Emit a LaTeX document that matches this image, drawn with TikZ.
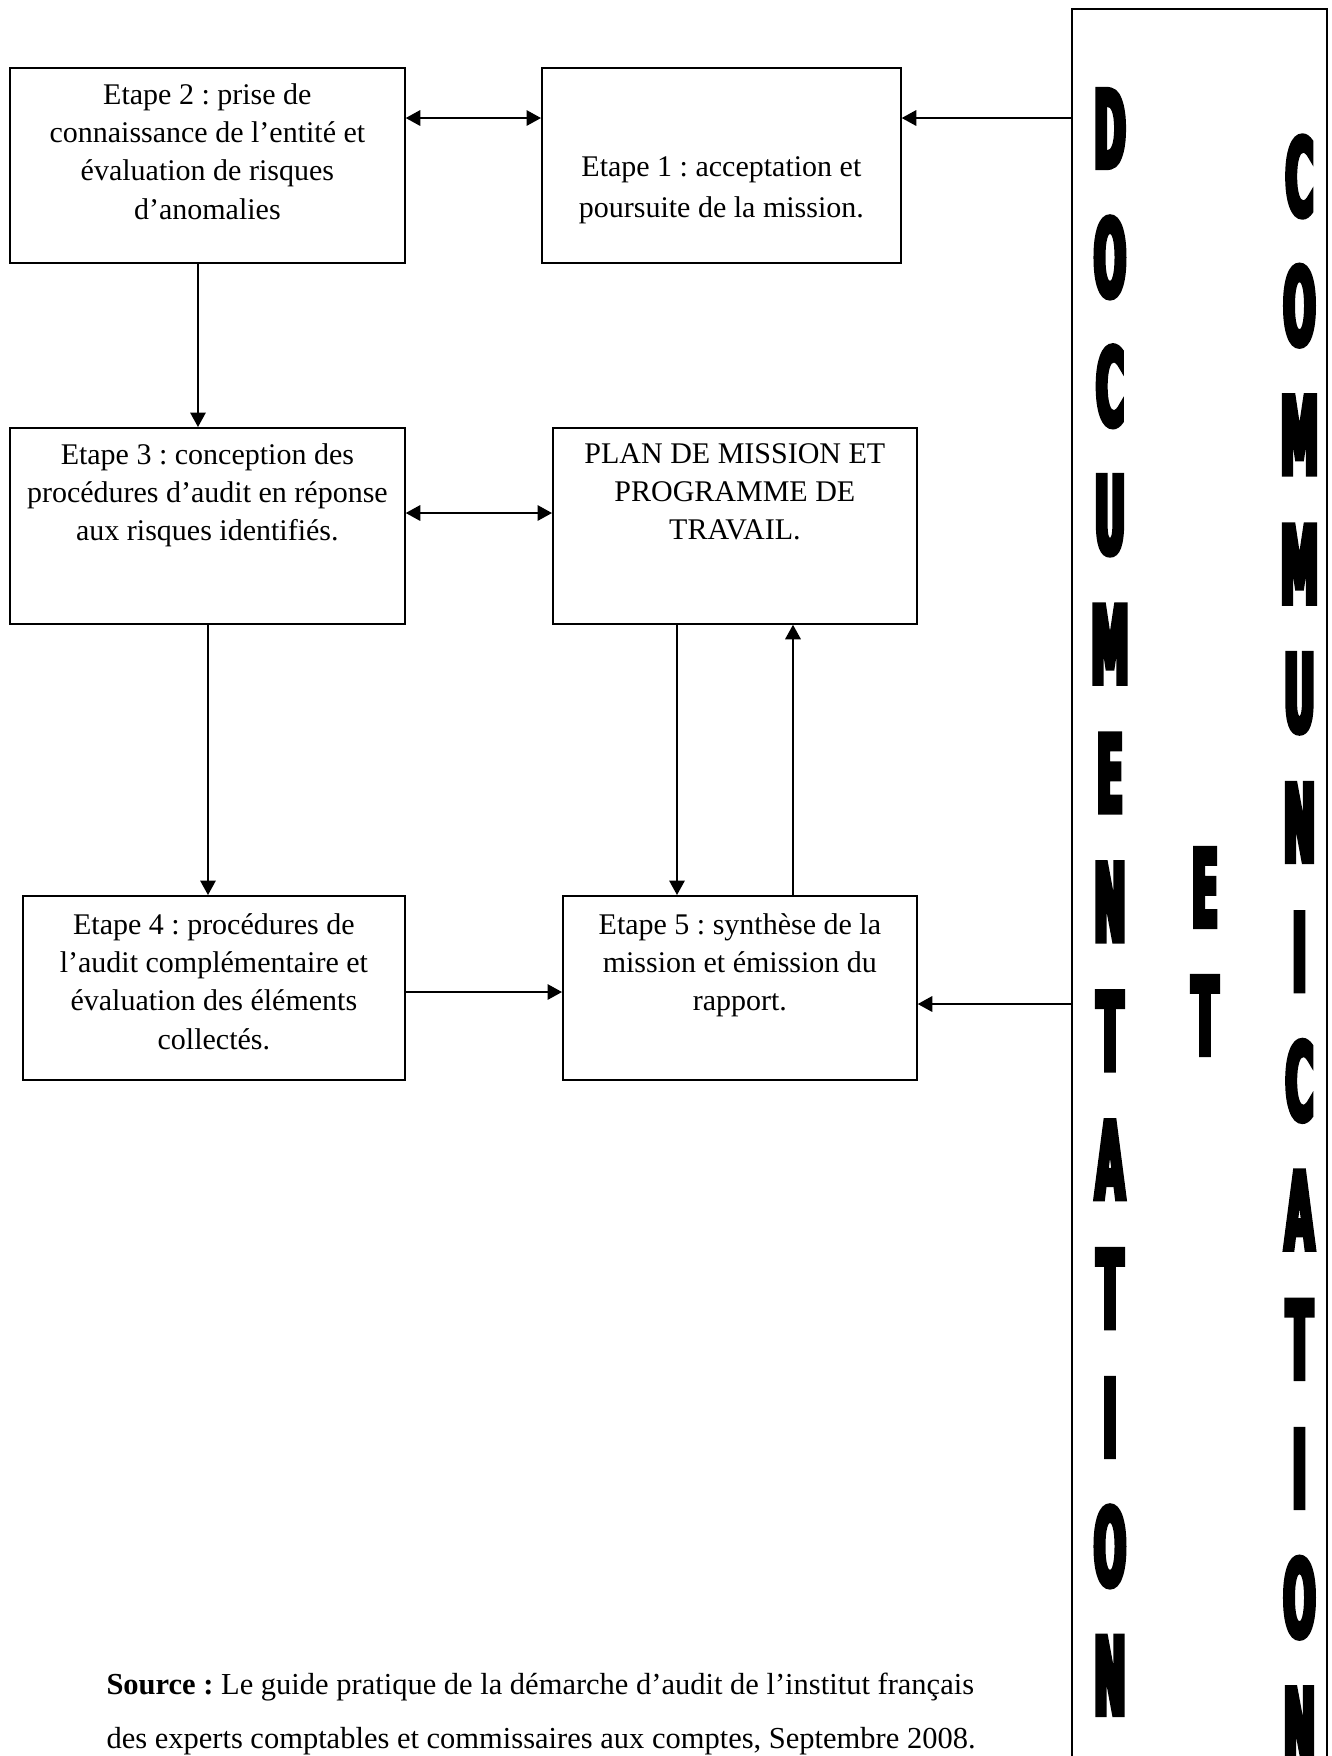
\documentclass[tikz,border=0pt]{standalone}
\usepackage{fontspec}
\setmainfont{Liberation Serif}
% heavy condensed capitals for the side panel
\newfontfamily\heavyfont{DejaVu Sans Bold}[FakeStretch=0.35,FakeBold=4.3]
\usetikzlibrary{arrows.meta,calc}
\frenchspacing
\begin{document}
\begin{tikzpicture}[x=0.4pt,y=-0.4pt,
  box/.style={draw, line width=0.7pt, rectangle, inner sep=0pt, anchor=north west},
  txt/.style={anchor=north, align=center, inner sep=0pt,
    font=\fontsize{12}{15.3}\selectfont, execute at begin node={\rule{0pt}{10pt}}},
  arr/.style={line width=0.7pt, -{Triangle[length=5.8pt,width=6.2pt]}},
  darr/.style={line width=0.7pt, {Triangle[length=5.8pt,width=6.2pt]}-{Triangle[length=5.8pt,width=6.2pt]}},
  bigletter/.style={inner sep=0pt, font=\heavyfont\fontsize{43.2}{50}\selectfont}]
\useasboundingbox (0,0) rectangle (1332,1756);
\clip (0,0) rectangle (1332,1756);

% process boxes
\node[box, minimum width=395*0.4pt, minimum height=195*0.4pt] (e2) at (9,67) {};
\node[box, minimum width=359*0.4pt, minimum height=195*0.4pt] (e1) at (541,67) {};
\node[box, minimum width=395*0.4pt, minimum height=196*0.4pt] (e3) at (9,427) {};
\node[box, minimum width=364*0.4pt, minimum height=196*0.4pt] (plan) at (552,427) {};
\node[box, minimum width=382*0.4pt, minimum height=184*0.4pt] (e4) at (22,895) {};
\node[box, minimum width=354*0.4pt, minimum height=184*0.4pt] (e5) at (562,895) {};

% side panel (runs off the bottom of the page)
\node[box, minimum width=255*0.4pt, minimum height=1800*0.4pt] (panel) at (1071,8) {};

% box texts
\node[txt] (e2t) at ($(e2.north)+(0,16)$) {Etape 2 : prise de\\connaissance de l’entité et\\évaluation de risques\\d’anomalies};
\node[txt, font=\fontsize{12}{16.4}\selectfont] (e1t) at ($(e1.north)+(0,89)$) {Etape 1 : acceptation et\\poursuite de la mission.};
\node[txt] (e3t) at ($(e3.north)+(0,16)$) {Etape 3 : conception des\\procédures d’audit en réponse\\aux risques identifiés.};
\node[txt] (plant) at ($(plan.north)+(0,16)$) {PLAN DE MISSION ET\\PROGRAMME DE\\TRAVAIL.};
\node[txt] (e4t) at ($(e4.north)+(0,18)$) {Etape 4 : procédures de\\l’audit complémentaire et\\évaluation des éléments\\collectés.};
\node[txt] (e5t) at ($(e5.north)+(0,18)$) {Etape 5 : synthèse de la\\mission et émission du\\rapport.};

% connectors
\coordinate (r1) at (0,118);
\coordinate (r2) at (0,513);
\coordinate (r3) at (0,992);
\coordinate (r4) at (0,1004);
\coordinate (c1) at (198,0);
\coordinate (c2) at (208,0);
\coordinate (c3) at (677,0);
\coordinate (c4) at (793,0);
\draw[darr] (e2.east |- r1) -- (e1.west |- r1);
\draw[arr] (panel.west |- r1) -- (e1.east |- r1);
\draw[arr] (e2.south -| c1) -- (e3.north -| c1);
\draw[darr] (e3.east |- r2) -- (plan.west |- r2);
\draw[arr] (e3.south -| c2) -- (e4.north -| c2);
\draw[arr] (plan.south -| c3) -- (e5.north -| c3);
\draw[arr] (e5.north -| c4) -- (plan.south -| c4);
\draw[arr] (e4.east |- r3) -- (e5.west |- r3);
\draw[arr] (panel.west |- r4) -- (e5.east |- r4);

% vertical words in the panel
\foreach \l [count=\i from 0] in {D,O,C,U,M,E,N,T,A,T,I,O,N}
  \node[bigletter] (doc\i) at (1110,{128.5+128.9*\i}) {\l};
\foreach \l [count=\i from 0] in {C,O,M,M,U,N,I,C,A,T,I,O,N}
  \node[bigletter] (com\i) at (1299.5,{176.5+129.2*\i}) {\l};
\node[bigletter] (et1) at (1205,887.5) {E};
\node[bigletter] (et2) at (1205,1015.5) {T};

% source note
\node[anchor=north west, align=left, inner sep=0pt,
  font=\fontsize{12.2}{21.6}\selectfont, execute at begin node={\rule{0pt}{10pt}}]
  (src) at (106,1673) {\textbf{Source :} Le guide pratique de la démarche d’audit de l’institut français\\des experts comptables et commissaires aux comptes, Septembre 2008.};
\end{tikzpicture}
\end{document}
